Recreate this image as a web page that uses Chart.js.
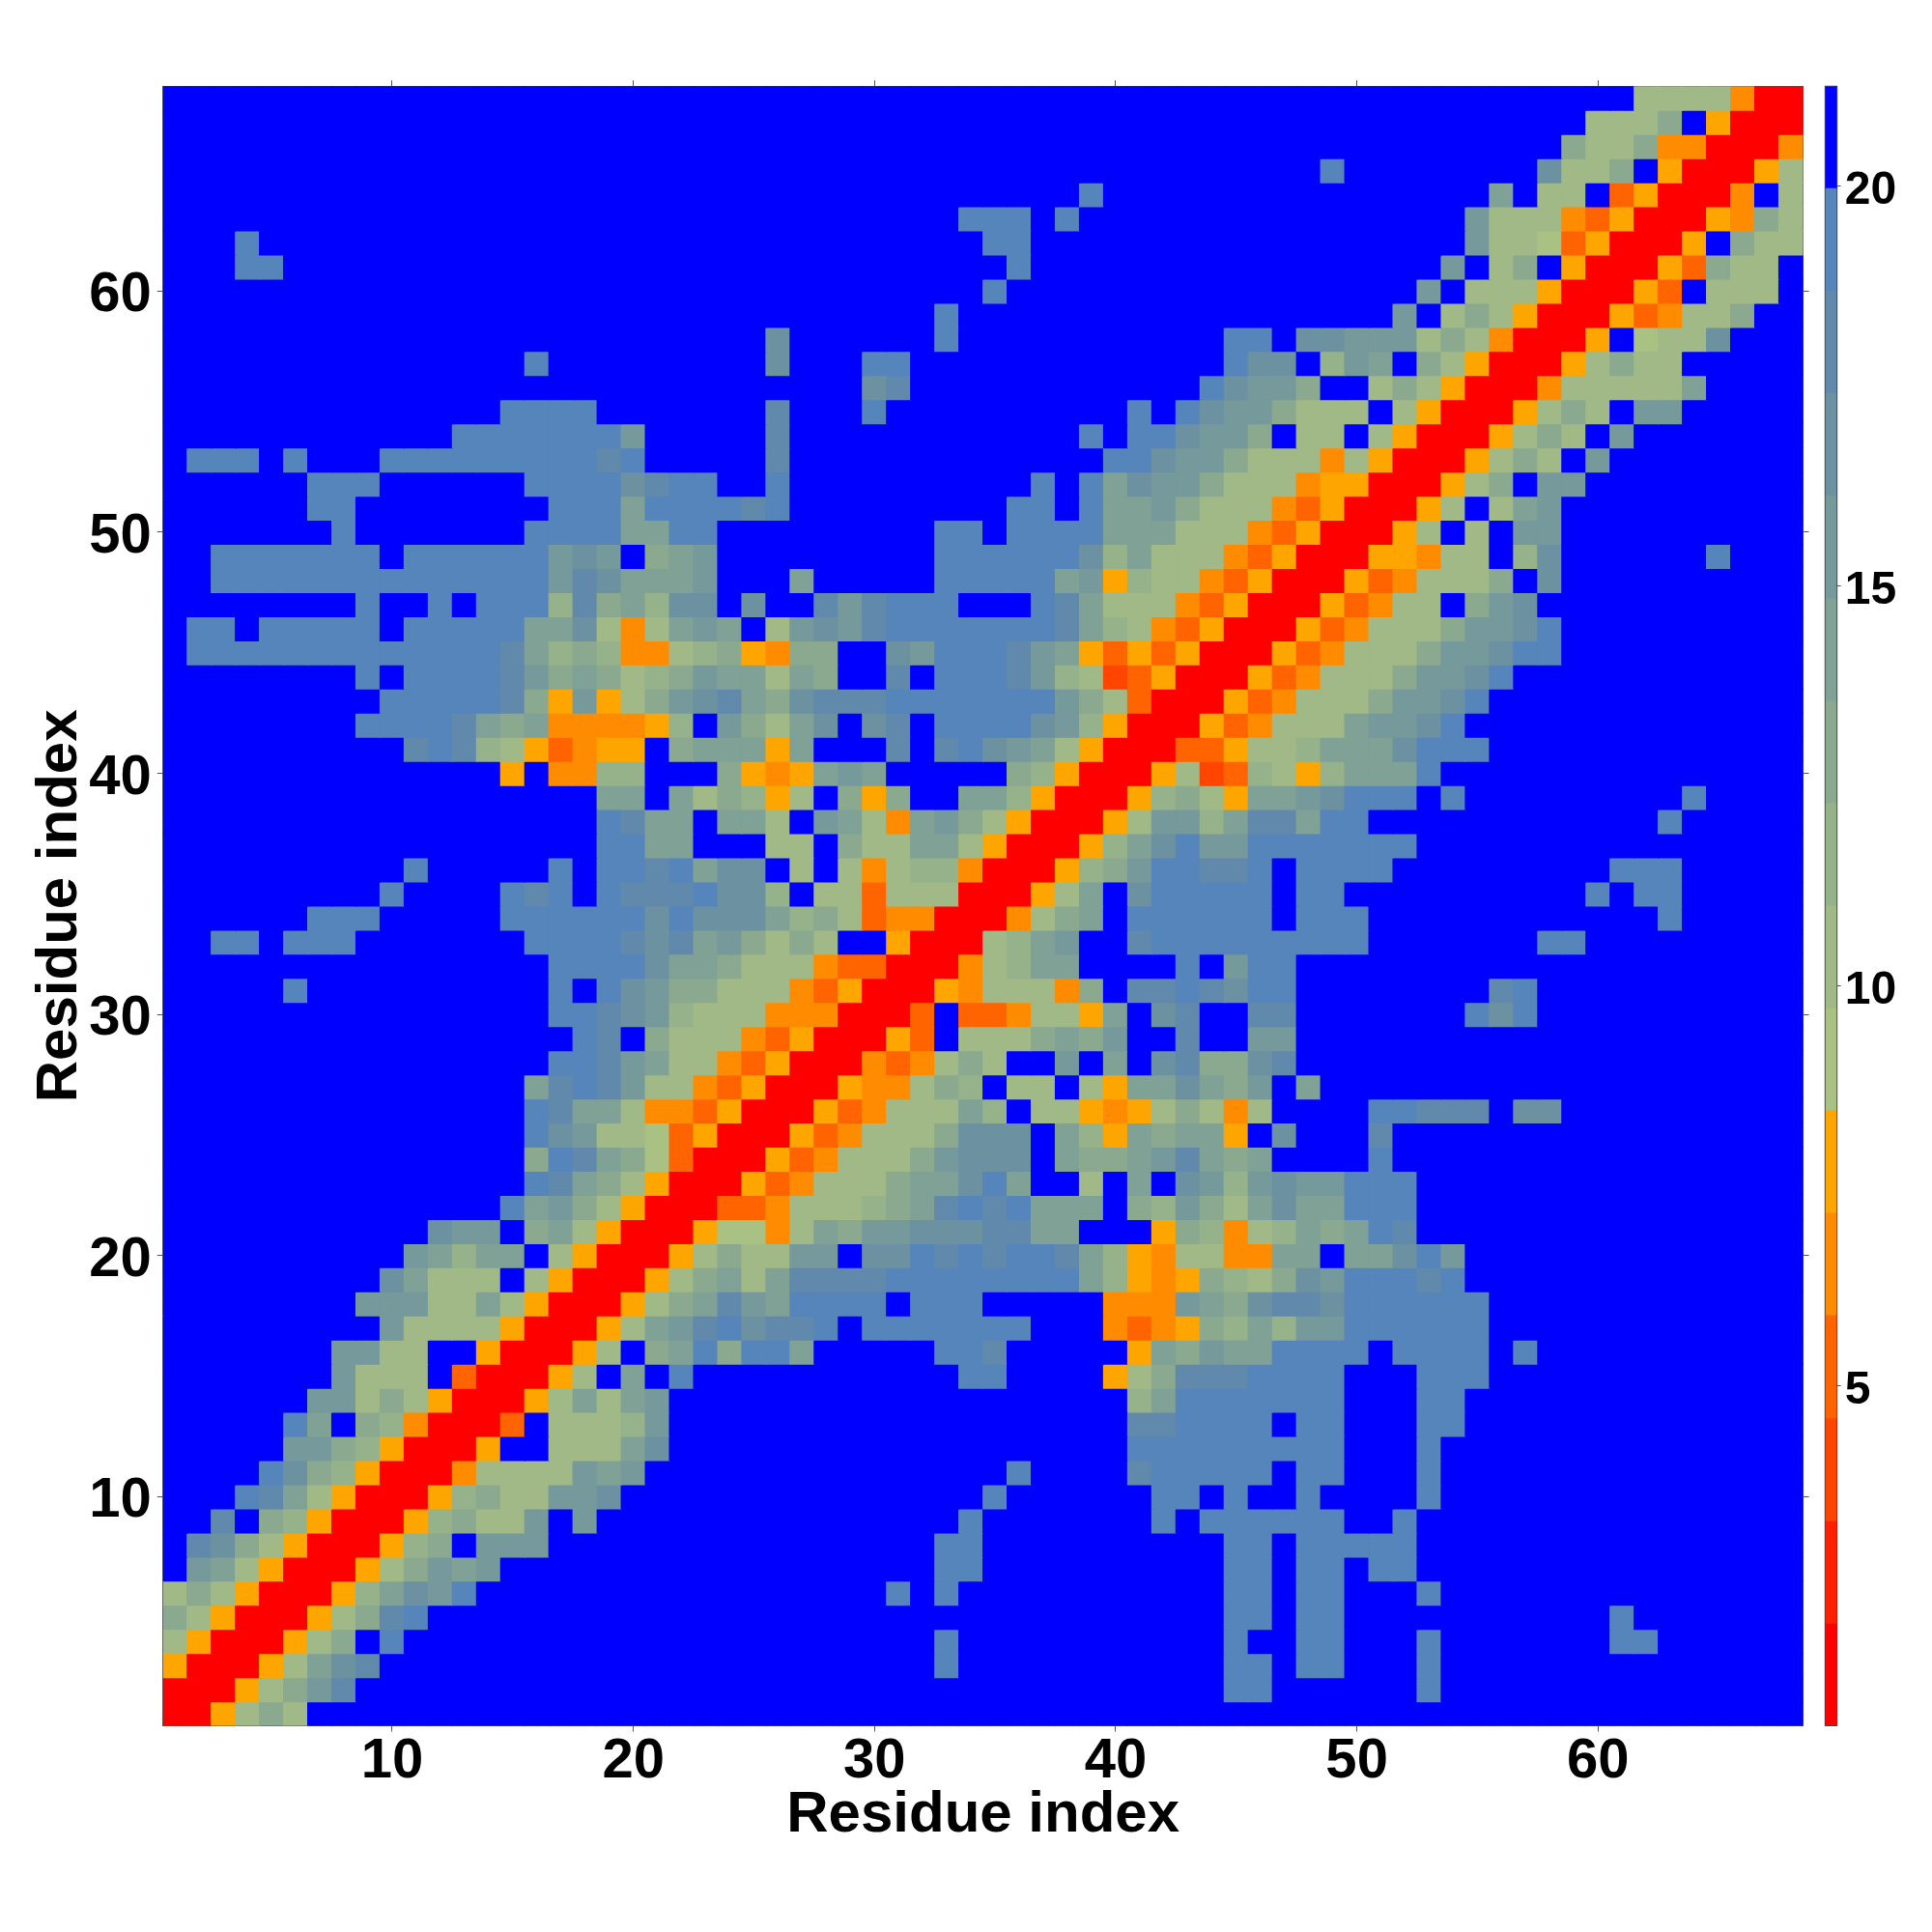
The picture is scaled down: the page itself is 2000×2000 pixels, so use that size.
<!DOCTYPE html>
<html>
<head>
<meta charset="utf-8">
<title>Residue contact map</title>
<script src="https://cdn.jsdelivr.net/npm/chart.js@4"></script>
<style>
  body { margin: 0; background: #fff; }
  canvas { position: absolute; top: 0; }
  #map-chart { left: 0; }
  #bar-chart { left: 1880px; }
</style>
</head>
<body>
<canvas id="map-chart" width="2000" height="2000"></canvas>
<canvas id="bar-chart" width="120" height="2000"></canvas>
<script>
const axisTicks = [10, 20, 30, 40, 50, 60];
const colorbarTicks = [5, 10, 15, 20];
const axisTitle = 'Residue index';

// distance bands of the colour bar, 0 = closest (red), f = furthest (blue)
const bandColors = [
  '#ff0000', '#ff2000', '#ff4500', '#ff6400', '#ff8c00', '#ffa500',
  '#a9c182', '#a0b987', '#95b28b', '#8aa98f', '#80a195', '#76999b',
  '#6c92a2', '#6189ab', '#5585bb', '#0000ff'
];
const bandEdges = [0.75, 2.03, 3.31, 4.59, 5.88, 7.16, 8.44, 9.72, 11, 12.28, 13.56, 14.84, 16.13, 17.41, 18.69, 19.97, 21.25];

// rows 1..68, columns in groups of ten. Map is symmetric, so only col >= row is listed.
// missing trailing cells are blue
const rows = [
  '005797ffff',
  '-00579bdff ffffffffff ffffffffff ffffffffff ffffeeffff ffefffffff',
  '--0057acdf ffffffffff ffffffffff ffefffffff ffffeefeef ffefffffff',
  '---00579fe ffffffffff ffffffffff ffefffffff ffffeffeef ffefffffff eeffffff',
  '----00579d efffffffff ffffffffff ffffffffff ffffeefeef ffffffffff efffffff',
  '-----0058a cbefffffff ffffffffff efefffffff ffffeefeef ffefffffff',
  '------0057 9babffffff ffffffffff ffeeffffff ffffeefeef eeffffffff',
  '-------005 89fbbbffff ffffffffff ffeeffffff ffffeefeee eeffffffff',
  '--------00 58977bfbff ffffffffff fffeffffff fefeeeeeef feffffffff',
  '---------0 058977bbcf ffffffffff ffffefffff feefeffeff ffefffffff',
  '---------- 0047777bab ffffffffff fffffeffff deeeeefeef ffefffffff',
  '---------- -005ff777a cfffffffff ffffffffff eeeeeeeeef ffefffffff',
  '---------- --003f7778 bfffffffff ffffffffff ddeeeefeef ffeeffffff',
  '---------- ---0057a7a bfffffffff ffffffffff 8aeeeeeeef ffeeffffff',
  '---------- ----0057fa feffffffff fffeeffff5 79dddeeeef ffeeefffff',
  '---------- -----0057f 9ae9eeafff ffeedfffff 5a9baaeeee feeeefefff',
  '---------- ------0057 abdecddefe eeeeeefff4 34598a8bbe eeeeefffff',
  '---------- -------005 79adbaeeee feeefffff4 44ba9cddce eeeeefffff',
  '---------- --------00 579a7adddd eeeeeeeea8 5459879cbe eedeffffff',
  '---------- ---------0 057977bbfc cededeeda8 547744aafa acebffffff',
  '---------- ---------- 0056647a9b bcccddaaff f598478a9a edffffffff',
  '---------- ---------- -003347778 9adedeaaaf 98b97acaae eeffffffff',
  '---------- ---------- --00534777 9aaceaff7f afcb8bcbbe eeffffffff',
  '---------- ---------- ---0053477 79bcccfa99 abda9affff efffffffff',
  '---------- ---------- ----005347 779cccfa85 a9aa5fcfff dfffffffff',
  '---------- ---------- -----00534 777a8f7754 579747ffff eedddfccff',
  '---------- ---------- ------0054 4798f77f75 aaca9bfaff',
  '---------- ---------- -------004 34797ffbfa fcd99cdfff',
  '---------- ---------- --------00 53f7779a9b ffdffbbfff',
  '---------- ---------- ---------0 03f334775a fcdffddfff ffffecefff',
  '---------- ---------- ---------- 005477749f ddedceefff fffffdefff',
  '---------- ---------- ---------- -00478aaff ffefbeefff',
  '---------- ---------- ---------- --0078abff deeeeeeeee fffffffeef',
  '---------- ---------- ---------- ---00479af eeeeeefeee ffffffffff ffefffff',
  '---------- ---------- ---------- ----0057af ceeeeefeef fffffffffe feefffff',
  '---------- ---------- ---------- -----00589 beeddefeee efffffffff eeefffff',
  '---------- ---------- ---------- ------0058 acebbeeeee eeffffffff',
  '---------- ---------- ---------- -------005 7bb8addaee ffffffffff ffefffff',
  '---------- ---------- ---------- --------00 58975aabce eefeffffff fffeffff',
  '---------- ---------- ---------- ---------0 057238758a aaefffffff',
  '---------- ---------- ---------- ---------- 00335778aa aceeefffff',
  '---------- ---------- ---------- ---------- -00534777a bbceffffff',
  '---------- ---------- ---------- ---------- --00534777 9bbcefffff',
  '---------- ---------- ---------- ---------- ---0053477 79bbceffff',
  '---------- ---------- ---------- ---------- ----005347 779bbceeff',
  '---------- ---------- ---------- ---------- -----00534 7779bbceff',
  '---------- ---------- ---------- ---------- ------0053 477f9bcfff',
  '---------- ---------- ---------- ---------- -------005 347779fcff',
  '---------- ---------- ---------- ---------- --------00 55477f8cff ffffefff',
  '---------- ---------- ---------- ---------- ---------0 057f7fbbff',
  '---------- ---------- ---------- ---------- ---------- 0057f7abff',
  '---------- ---------- ---------- ---------- ---------- -00579fbbf',
  '---------- ---------- ---------- ---------- ---------- --005797fb',
  '---------- ---------- ---------- ---------- ---------- ---005797f bfffffff',
  '---------- ---------- ---------- ---------- ---------- ----005797 fbbfffff',
  '---------- ---------- ---------- ---------- ---------- -----00477 777affff',
  '---------- ---------- ---------- ---------- ---------- ------0057 977fffff',
  '---------- ---------- ---------- ---------- ---------- -------005 f677cfff',
  '---------- ---------- ---------- ---------- ---------- --------00 534779ff',
  '---------- ---------- ---------- ---------- ---------- ---------0 053f777f',
  '---------- ---------- ---------- ---------- ---------- ---------- 0053977f',
  '---------- ---------- ---------- ---------- ---------- ---------- -005f977',
  '---------- ---------- ---------- ---------- ---------- ---------- --005497',
  '---------- ---------- ---------- ---------- ---------- ---------- ---004f7',
  '---------- ---------- ---------- ---------- ---------- ---------- ----0057',
  '---------- ---------- ---------- ---------- ---------- ---------- -----004',
  '---------- ---------- ---------- ---------- ---------- ---------- ------00',
  '---------- ---------- ---------- ---------- ---------- ---------- -------0'
];

const size = rows.length;
const cells = [];
for (let r = 1; r <= size; r++) {
  const line = rows[r - 1].replace(/ /g, '').padEnd(size, 'f');
  for (let c = r; c <= size; c++) {
    const band = parseInt(line[c - 1], 16);
    cells.push({ x: c, y: r, band: band });
    if (c !== r) cells.push({ x: r, y: c, band: band });
  }
}
// same paint order everywhere so the small overlap between cells stays even
cells.sort((a, b) => a.y - b.y || a.x - b.x);

const fontName = '"Liberation Sans", Arial, sans-serif';
const tickColor = '#555';

function fixedTicks(values) {
  return function (scale) {
    scale.ticks = values.map(v => ({ value: v }));
  };
}

function residueAxis(position, extra) {
  return Object.assign({
    type: 'linear',
    position: position,
    min: 0.5,
    max: size + 0.5,
    afterBuildTicks: fixedTicks(axisTicks),
    border: { display: true, color: tickColor, width: 1 },
    grid: { drawOnChartArea: false, drawTicks: true, tickLength: 6, color: tickColor, lineWidth: 1 },
    ticks: { display: false }
  }, extra);
}

const labelFont = { family: fontName, size: 58, weight: 'bold' };
const titleFont = { family: fontName, size: 60, weight: 'bold' };

new Chart(document.getElementById('map-chart'), {
  type: 'scatter',
  data: {
    datasets: [{
      data: cells,
      pointStyle: 'rect',
      pointRadius: 18.5,
      pointBorderWidth: 0,
      pointHoverRadius: 18.5,
      pointBackgroundColor: cells.map(c => bandColors[c.band])
    }]
  },
  options: {
    responsive: false,
    animation: false,
    events: [],
    layout: { padding: { top: 89.2, right: 133.5, bottom: 0, left: 0 } },
    plugins: { legend: { display: false }, tooltip: { enabled: false } },
    scales: {
      x: residueAxis('bottom', {
        ticks: { display: true, color: '#000', padding: -3, maxRotation: 0, autoSkip: false, font: labelFont },
        title: { display: true, text: axisTitle, color: '#000', font: titleFont, padding: { top: 0, bottom: 85 } },
        afterFit: s => { s.height = 213.5; }
      }),
      y: residueAxis('left', {
        ticks: { display: true, color: '#000', padding: 6, labelOffset: 5, autoSkip: false, font: labelFont },
        title: { display: true, text: axisTitle, color: '#000', font: titleFont, padding: { top: 26, bottom: 0 } },
        afterFit: s => { s.width = 168.8; }
      }),
      xTop: residueAxis('top', { axis: 'x', afterFit: s => { s.height = 0; } }),
      yRight: residueAxis('right', { axis: 'y', afterFit: s => { s.width = 0; } })
    }
  }
});

// outline round the colour bar
const barFrame = {
  id: 'barFrame',
  afterDraw(chart) {
    const a = chart.chartArea;
    const ctx = chart.ctx;
    ctx.save();
    ctx.strokeStyle = 'rgba(40, 40, 40, 0.8)';
    ctx.lineWidth = 1;
    ctx.strokeRect(a.left, a.top, a.right - a.left, a.bottom - a.top);
    ctx.restore();
  }
};

new Chart(document.getElementById('bar-chart'), {
  type: 'bar',
  plugins: [barFrame],
  data: {
    labels: ['band'],
    datasets: bandColors.map((color, i) => ({
      data: [[bandEdges[i], bandEdges[i + 1]]],
      backgroundColor: color,
      borderWidth: 0,
      grouped: false,
      barPercentage: 1,
      categoryPercentage: 1
    }))
  },
  options: {
    responsive: false,
    animation: false,
    events: [],
    layout: { padding: { top: 89.2, right: 0, bottom: 213.5, left: 9.3 } },
    plugins: { legend: { display: false }, tooltip: { enabled: false } },
    scales: {
      x: { display: false },
      y: {
        position: 'right',
        min: bandEdges[0],
        max: bandEdges[bandEdges.length - 1],
        afterBuildTicks: fixedTicks(colorbarTicks),
        afterFit: s => { s.width = 98.3; },
        border: { display: false },
        grid: { drawOnChartArea: false, drawTicks: true, tickLength: 4, color: tickColor, lineWidth: 1 },
        ticks: {
          color: '#000',
          padding: 4,
          labelOffset: 5,
          font: { family: fontName, size: 48, weight: 'bold' }
        }
      }
    }
  }
});
</script>
</body>
</html>
